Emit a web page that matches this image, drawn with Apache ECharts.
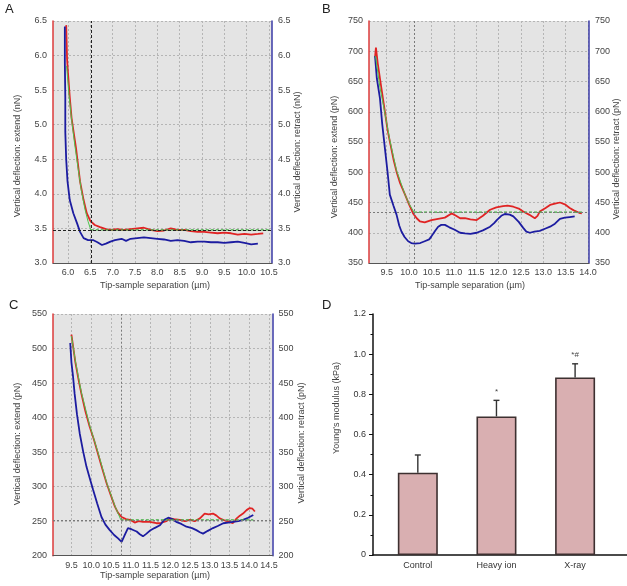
<!DOCTYPE html>
<html>
<head>
<meta charset="utf-8">
<style>
html,body{margin:0;padding:0;background:#fff}
#main{width:627px;height:586px}
</style>
<script src="https://cdn.jsdelivr.net/npm/echarts@6.0.0/dist/echarts.min.js"></script>
</head>
<body>
<div id="main"></div>
<script>
// 面板A 力曲线 (nN)
var extendA = [[5.96,6.44],[5.97,6.2],[5.98,5.95],[6.00,5.75],[6.04,5.40],[6.08,5.10],[6.13,4.88],[6.18,4.66],[6.22,4.45],[6.27,4.18],[6.35,3.91],[6.42,3.72],[6.50,3.61],[6.60,3.55],[6.72,3.52],[6.85,3.49],[6.95,3.48],[7.1,3.49],[7.25,3.48],[7.4,3.49],[7.55,3.50],[7.7,3.51],[7.85,3.48],[8.0,3.46],[8.15,3.47],[8.3,3.50],[8.45,3.48],[8.6,3.48],[8.75,3.46],[8.9,3.45],[9.05,3.45],[9.2,3.44],[9.35,3.43],[9.5,3.44],[9.65,3.43],[9.8,3.41],[9.95,3.42],[10.1,3.41],[10.25,3.42],[10.37,3.43]];
var retractA = [[5.93,6.42],[5.93,5.9],[5.94,5.4],[5.94,4.90],[5.96,4.5],[5.99,4.18],[6.04,3.91],[6.12,3.72],[6.20,3.58],[6.27,3.45],[6.35,3.36],[6.45,3.33],[6.57,3.33],[6.66,3.30],[6.76,3.26],[6.85,3.28],[6.95,3.31],[7.05,3.33],[7.2,3.35],[7.3,3.32],[7.4,3.35],[7.55,3.36],[7.7,3.37],[7.85,3.36],[8.0,3.35],[8.15,3.34],[8.3,3.32],[8.45,3.33],[8.6,3.32],[8.75,3.30],[8.9,3.31],[9.05,3.31],[9.2,3.30],[9.35,3.30],[9.5,3.29],[9.65,3.30],[9.8,3.31],[9.95,3.29],[10.1,3.27],[10.25,3.28]];
var fitA = [[5.97,5.85],[6.02,5.45],[6.08,5.08],[6.15,4.72],[6.22,4.40],[6.30,4.05],[6.38,3.78],[6.45,3.60],[6.51,3.48]];
var contactA = [6.51, 3.48];
var baseEndA = 10.5;
var xTicksA = [6.0,6.5,7.0,7.5,8.0,8.5,9.0,9.5,10.0,10.5];

// 面板B (pN)
var extendB = [[9.24,690],[9.26,706],[9.30,680],[9.38,640],[9.46,600],[9.52,570],[9.57,551],[9.65,522],[9.72,501],[9.80,482],[9.91,463],[10.0,447],[10.09,432],[10.17,424],[10.24,419],[10.35,417],[10.5,421],[10.65,423],[10.8,425],[10.95,432],[11.05,428],[11.14,424],[11.25,424],[11.37,422],[11.51,421],[11.65,428],[11.81,438],[11.95,442],[12.1,444],[12.2,445],[12.33,443],[12.45,440],[12.55,435],[12.68,430],[12.81,424],[12.87,428],[12.92,435],[13.05,441],[13.15,446],[13.26,448],[13.37,450],[13.48,447],[13.59,441],[13.68,437],[13.74,435],[13.8,433],[13.86,432]];
var retractB = [[9.24,692],[9.28,655],[9.35,622],[9.40,580],[9.46,540],[9.52,500],[9.57,463],[9.65,445],[9.72,430],[9.78,412],[9.83,402],[9.9,393],[9.98,386],[10.05,383],[10.13,382],[10.25,383],[10.35,386],[10.45,389],[10.5,394],[10.58,403],[10.65,410],[10.72,413],[10.8,413],[10.9,409],[11.02,405],[11.14,400],[11.25,399],[11.37,398],[11.51,400],[11.65,404],[11.81,410],[11.9,416],[11.96,421],[12.06,428],[12.14,431],[12.25,430],[12.33,427],[12.45,418],[12.55,408],[12.62,402],[12.7,400],[12.8,402],[12.92,403],[13.05,407],[13.15,410],[13.26,415],[13.37,423],[13.48,425],[13.59,426],[13.7,427]];
var fitB = [[9.25,692],[9.35,640],[9.46,598],[9.57,553],[9.72,503],[9.91,463],[10.0,448],[10.11,434]];
var contactB = [10.11, 434];
var baseEndB = 13.88;
var xTicksB = [9.5,10.0,10.5,11.0,11.5,12.0,12.5,13.0,13.5,14.0];

// 面板C (pN)
var extendC = [[9.5,520],[9.52,512],[9.6,480],[9.68,455],[9.75,435],[9.85,410],[9.96,387],[10.07,368],[10.17,348],[10.28,326],[10.39,305],[10.5,287],[10.6,271],[10.68,262],[10.77,256],[10.88,253],[10.98,252],[11.1,248],[11.2,250],[11.31,249],[11.48,249],[11.65,247],[11.74,247],[11.9,250],[11.99,254],[12.1,253],[12.24,252],[12.37,250],[12.5,252],[12.62,250],[12.75,254],[12.87,261],[12.97,260],[13.08,261],[13.17,258],[13.25,254],[13.38,251],[13.5,249],[13.58,247],[13.68,254],[13.76,258],[13.84,261],[13.93,266],[14.01,269],[14.08,268],[14.14,264]];
var retractC = [[9.47,508],[9.5,480],[9.54,460],[9.58,435],[9.64,405],[9.71,377],[9.8,350],[9.88,329],[9.96,313],[10.05,295],[10.15,276],[10.26,256],[10.36,245],[10.47,237],[10.58,230],[10.68,225],[10.77,220],[10.85,230],[10.93,240],[11.03,238],[11.15,235],[11.23,231],[11.31,228],[11.4,232],[11.48,236],[11.6,240],[11.74,244],[11.85,252],[11.95,255],[12.05,253],[12.15,249],[12.28,246],[12.41,242],[12.55,240],[12.66,237],[12.75,234],[12.83,232],[12.95,236],[13.08,240],[13.2,243],[13.34,247],[13.46,248],[13.59,249],[13.72,250],[13.84,252],[13.97,255],[14.1,259]];
var fitC = [[9.5,518],[9.6,482],[9.75,437],[9.96,389],[10.17,350],[10.39,306],[10.6,272],[10.75,252]];
var contactC = [10.75, 252];
var baseEndC = 14.1;
var xTicksC = [9.5,10.0,10.5,11.0,11.5,12.0,12.5,13.0,13.5,14.0,14.5];

// 面板D 杨氏模量
var barNames = ['Control', 'Heavy ion', 'X-ray'];
var barPos = [1, 2, 3];
var barMean = [0.41, 0.69, 0.884];
var barErr = [0.088, 0.08, 0.068];
var barMarks = ['', '*', '*#'];

var FONT = 'Liberation Sans, Arial, sans-serif';
var gridBg = '#e4e4e4';

function xAx(gi, min, max, ticks) {
  return {
    type: 'value', gridIndex: gi, min: min, max: max,
    axisLine: { show: true, lineStyle: { color: '#555', width: 1 } },
    axisTick: { show: false, customValues: ticks },
    axisLabel: { customValues: ticks, color: '#444', fontSize: 9, fontFamily: FONT, margin: 5,
      formatter: function (v) { return v.toFixed(1); } },
    splitLine: { show: true, lineStyle: { color: '#b5b5b5', type: [2, 2], width: 1 } }
  };
}
function yAx(gi, min, max, step, digits, side) {
  var left = side === 'left';
  return {
    type: 'value', gridIndex: gi, min: min, max: max, interval: step, position: side,
    axisLine: { show: true, onZero: false, lineStyle: { color: left ? '#dd3b3b' : '#3a3aa6', width: 1.5 } },
    axisTick: { show: false },
    axisLabel: { color: '#444', fontSize: 9, fontFamily: FONT, margin: 6,
      formatter: function (v) { return v.toFixed(digits); } },
    splitLine: { show: left, lineStyle: { color: '#b5b5b5', type: [2, 2], width: 1 } }
  };
}

function panelSeries(gi, ext, ret, fit, contact, baseEnd, xr, yr, refColor, refType) {
  return [
    {
      type: 'line', xAxisIndex: gi, yAxisIndex: gi * 2, data: ext, showSymbol: false,
      lineStyle: { color: '#e02424', width: 1.8 }, z: 3, silent: true,
      markLine: {
        silent: true, symbol: ['none', 'none'], label: { show: false },
        lineStyle: { color: refColor, type: refType, width: 1 },
        data: [
          [{ coord: [contact[0], yr[0]] }, { coord: [contact[0], yr[1]] }],
          [{ coord: [xr[0], contact[1]] }, { coord: [xr[1], contact[1]] }]
        ]
      }
    },
    {
      type: 'line', xAxisIndex: gi, yAxisIndex: gi * 2 + 1, data: ret, showSymbol: false,
      lineStyle: { color: '#1c1ca0', width: 1.8 }, z: 3, silent: true
    },
    {
      type: 'line', xAxisIndex: gi, yAxisIndex: gi * 2, data: fit, showSymbol: false,
      lineStyle: { color: '#4cc24c', width: 1 }, z: 4, silent: true
    },
    {
      type: 'line', xAxisIndex: gi, yAxisIndex: gi * 2, data: [contact, [baseEnd, contact[1]]], showSymbol: false,
      lineStyle: { color: '#3fae3f', width: 1.2, type: [3, 2] }, z: 4, silent: true
    }
  ];
}

function title(x, y, text, rot) {
  return { type: 'text', x: x, y: y, rotation: rot ? Math.PI / 2 : 0,
    style: { text: text, font: '9px ' + FONT, fill: '#444', align: 'center', verticalAlign: 'middle' } };
}
function letter(x, y, t) {
  return { type: 'text', x: x, y: y, style: { text: t, font: '13px ' + FONT, fill: '#222' } };
}

var xrA = [5.665, 10.566], yrA = [3.0, 6.5];
var xrB = [9.105, 14.02], yrB = [350, 750];
var xrC = [9.034, 14.586], yrC = [200, 550];

var myChart = echarts.init(document.getElementById('main'), null, { renderer: 'canvas' });
var series = []
  .concat(panelSeries(0, extendA, retractA, fitA, contactA, baseEndA, xrA, yrA, '#222', [3, 2]))
  .concat(panelSeries(1, extendB, retractB, fitB, contactB, baseEndB, xrB, yrB, '#7a7a7a', [2, 2]))
  .concat(panelSeries(2, extendC, retractC, fitC, contactC, baseEndC, xrC, yrC, '#7a7a7a', [2, 2]));

series.push({
  type: 'bar', xAxisIndex: 3, yAxisIndex: 6, barWidth: 40, silent: true,
  data: barPos.map(function (x, i) { return [x, barMean[i]]; }),
  itemStyle: { color: '#d9afb1', borderColor: '#3d3030', borderWidth: 1.6 }
});
series.push({
  type: 'custom', xAxisIndex: 3, yAxisIndex: 6, silent: true, z: 5,
  data: barPos.map(function (x, i) { return [x, barMean[i], barMean[i] + barErr[i]]; }),
  renderItem: function (params, api) {
    var top = api.coord([api.value(0), api.value(1)]);
    var end = api.coord([api.value(0), api.value(2)]);
    var st = { stroke: '#333', lineWidth: 1.4 };
    return {
      type: 'group',
      children: [
        { type: 'line', shape: { x1: top[0], y1: top[1], x2: end[0], y2: end[1] }, style: st },
        { type: 'line', shape: { x1: end[0] - 3, y1: end[1], x2: end[0] + 3, y2: end[1] }, style: st },
        { type: 'text', x: end[0], y: end[1] - 9,
          style: { text: barMarks[params.dataIndex], font: '8px ' + FONT, fill: '#444', align: 'center', verticalAlign: 'middle' } }
      ]
    };
  }
});

var option = {
  animation: false,
  backgroundColor: '#fff',
  grid: [
    { left: 53, top: 21, width: 219, height: 242, show: true, backgroundColor: gridBg, borderWidth: 0, outerBoundsMode: 'none' },
    { left: 369, top: 21, width: 220, height: 242, show: true, backgroundColor: gridBg, borderWidth: 0, outerBoundsMode: 'none' },
    { left: 53, top: 314, width: 219.5, height: 241.7, show: true, backgroundColor: gridBg, borderWidth: 0, outerBoundsMode: 'none' },
    { left: 373, top: 314, width: 254, height: 241, outerBoundsMode: 'none' }
  ],
  xAxis: [
    xAx(0, xrA[0], xrA[1], xTicksA),
    xAx(1, xrB[0], xrB[1], xTicksB),
    xAx(2, xrC[0], xrC[1], xTicksC),
    {
      type: 'value', gridIndex: 3, min: 0.43, max: 3.66,
      axisLine: { show: true, lineStyle: { color: '#111', width: 1.5 } },
      axisTick: { show: false, customValues: barPos },
      axisLabel: { customValues: barPos, color: '#333', fontSize: 9, fontFamily: FONT, margin: 6,
        formatter: function (v) { return barNames[Math.round(v) - 1]; } },
      splitLine: { show: false }
    }
  ],
  yAxis: [
    yAx(0, yrA[0], yrA[1], 0.5, 1, 'left'),
    yAx(0, yrA[0], yrA[1], 0.5, 1, 'right'),
    yAx(1, yrB[0], yrB[1], 50, 0, 'left'),
    yAx(1, yrB[0], yrB[1], 50, 0, 'right'),
    yAx(2, yrC[0], yrC[1], 50, 0, 'left'),
    yAx(2, yrC[0], yrC[1], 50, 0, 'right'),
    {
      type: 'value', gridIndex: 3, min: 0, max: 1.2, interval: 0.2,
      axisLine: { show: true, lineStyle: { color: '#111', width: 1.5 } },
      axisTick: { show: true, length: 4, lineStyle: { color: '#111' } },
      minorTick: { show: true, splitNumber: 2, length: 2.5, lineStyle: { color: '#111' } },
      axisLabel: { color: '#333', fontSize: 9, fontFamily: FONT, margin: 7,
        formatter: function (v) { return v === 0 ? '0' : v.toFixed(1); } },
      splitLine: { show: false }
    }
  ],
  graphic: [
    letter(5, 3, 'A'), letter(322, 3, 'B'), letter(9, 299, 'C'), letter(322, 299, 'D'),
    title(155, 286, 'Tip-sample separation (\u00b5m)'),
    title(470, 286, 'Tip-sample separation (\u00b5m)'),
    title(155, 576, 'Tip-sample separation (\u00b5m)'),
    title(18, 156, 'Vertical deflection: extend (nN)', true),
    title(298, 152, 'Vertical deflection: retract (nN)', true),
    title(335, 157, 'Vertical deflection: extend (pN)', true),
    title(617, 159, 'Vertical deflection: retract (pN)', true),
    title(18, 444, 'Vertical deflection: extend (pN)', true),
    title(302, 443, 'Vertical deflection: retract (pN)', true),
    title(337, 408, "Young's modulus (kPa)", true)
  ],
  series: series
};
myChart.setOption(option);
window.addEventListener('resize', function () {
  myChart.resize();
});
</script>
</body>
</html>
